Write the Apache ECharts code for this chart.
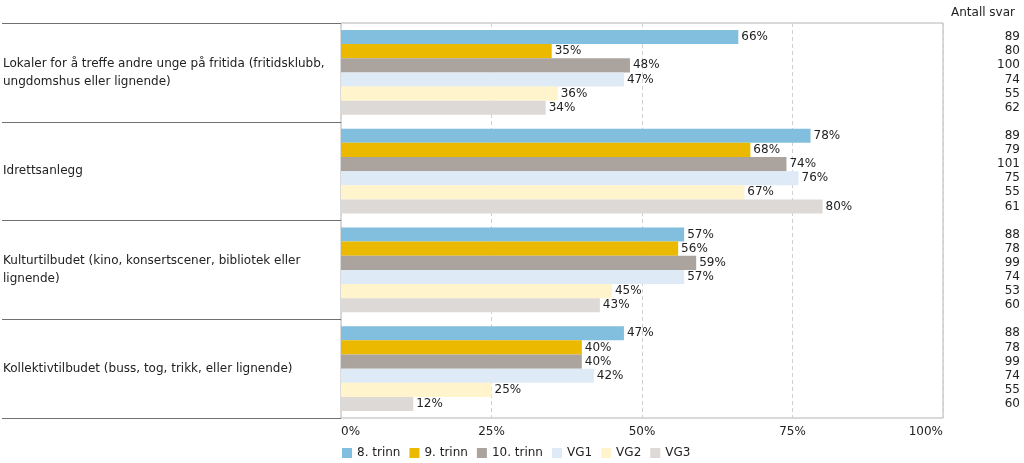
<!DOCTYPE html>
<html><head><meta charset="utf-8">
<script src="https://cdn.jsdelivr.net/npm/echarts@6/dist/echarts.min.js"></script>
<style>html,body{margin:0;padding:0;background:#fff}#c{width:1024px;height:463px}</style>
</head><body><div id="c"></div>
<script>
const categories = [
  'Lokaler for å treffe andre unge på fritida (fritidsklubb, ungdomshus eller lignende)',
  'Idrettsanlegg',
  'Kulturtilbudet (kino, konsertscener, bibliotek eller lignende)',
  'Kollektivtilbudet (buss, tog, trikk, eller lignende)'
];
const seriesNames = ['8. trinn', '9. trinn', '10. trinn', 'VG1', 'VG2', 'VG3'];
const trinn8 = [66, 78, 57, 47];
const trinn9 = [35, 68, 56, 40];
const trinn10 = [48, 74, 59, 40];
const vg1 = [47, 76, 57, 42];
const vg2 = [36, 67, 45, 25];
const vg3 = [34, 80, 43, 12];
const n8 = [89, 89, 88, 88];
const n9 = [80, 79, 78, 78];
const n10 = [100, 101, 99, 99];
const nvg1 = [74, 75, 74, 74];
const nvg2 = [55, 55, 53, 55];
const nvg3 = [62, 61, 60, 60];
const xTicks = [0, 25, 50, 75, 100];
const countTitle = 'Antall svar';

const values = [trinn8, trinn9, trinn10, vg1, vg2, vg3];
const counts = [n8, n9, n10, nvg1, nvg2, nvg3];
const colors = ['#82BFDE', '#EAB900', '#ABA49E', '#DEEAF5', '#FFF4CC', '#DCD9D6'];
const FONT = 'DejaVu Sans';
const TOP = 23, BOTTOM = 45;

const series = [];
values.forEach((arr, i) => {
  series.push({
    name: seriesNames[i], type: 'bar', xAxisIndex: 1, yAxisIndex: 1,
    data: arr, barGap: '0%', barCategoryGap: '14%',
    itemStyle: { color: colors[i] },
    label: { show: true, position: 'right', distance: 3, formatter: p => p.value + '%',
      color: '#222', fontFamily: FONT, fontSize: 12 },
    silent: true
  });
});
counts.forEach((arr, i) => {
  series.push({
    name: 'n_' + seriesNames[i], type: 'bar', xAxisIndex: 2, yAxisIndex: 2,
    data: arr.map(v => ({ value: 1, n: v })), barGap: '0%', barCategoryGap: '14%',
    itemStyle: { color: 'rgba(0,0,0,0)' },
    label: { show: true, position: 'insideRight', distance: 0,
      formatter: p => String(p.data.n), color: '#222', fontFamily: FONT, fontSize: 12 },
    silent: true
  });
});

const chart = echarts.init(document.getElementById('c'), null, { renderer: 'canvas' });
chart.setOption({
  animation: false,
  title: { text: countTitle, right: 4, top: 2,
    textStyle: { fontFamily: FONT, fontSize: 12, fontWeight: 'normal', color: '#222' } },
  legend: {
    data: seriesNames, left: 337, top: 442, itemWidth: 10, itemHeight: 10, itemGap: 9,
    icon: 'rect', textStyle: { fontFamily: FONT, fontSize: 12, color: '#222' },
    selectedMode: false
  },
  grid: [
    { left: 0, width: 341, top: TOP, bottom: BOTTOM },
    { left: 341, right: 81, top: TOP, bottom: BOTTOM, show: true, borderColor: '#b4b4b4', borderWidth: 1 },
    { left: 943, right: 4, top: TOP, bottom: BOTTOM }
  ],
  xAxis: [
    { gridIndex: 0, type: 'value', show: false },
    { gridIndex: 1, type: 'value', min: 0, max: 100, interval: 25,
      axisLine: { show: false }, axisTick: { show: false },
      axisLabel: { formatter: v => v + '%', fontFamily: FONT, fontSize: 12, color: '#222',
        margin: 8, alignMinLabel: 'left', alignMaxLabel: 'right' },
      splitLine: { show: true, lineStyle: { color: '#d0d0d0', type: [4, 3] } } },
    { gridIndex: 2, type: 'value', min: 0, max: 1, show: false }
  ],
  yAxis: [
    { gridIndex: 0, type: 'category', data: categories, inverse: true,
      axisLine: { show: false }, axisTick: { show: false },
      axisLabel: { inside: true, margin: 1, align: 'left', width: 338, overflow: 'break',
        fontFamily: FONT, fontSize: 12, color: '#222', lineHeight: 18 },
      splitLine: { show: true, lineStyle: { color: '#707070', width: 1 } } },
    { gridIndex: 1, type: 'category', data: categories, inverse: true, show: false },
    { gridIndex: 2, type: 'category', data: categories, inverse: true, show: false }
  ],
  series: series
});
</script></body></html>
